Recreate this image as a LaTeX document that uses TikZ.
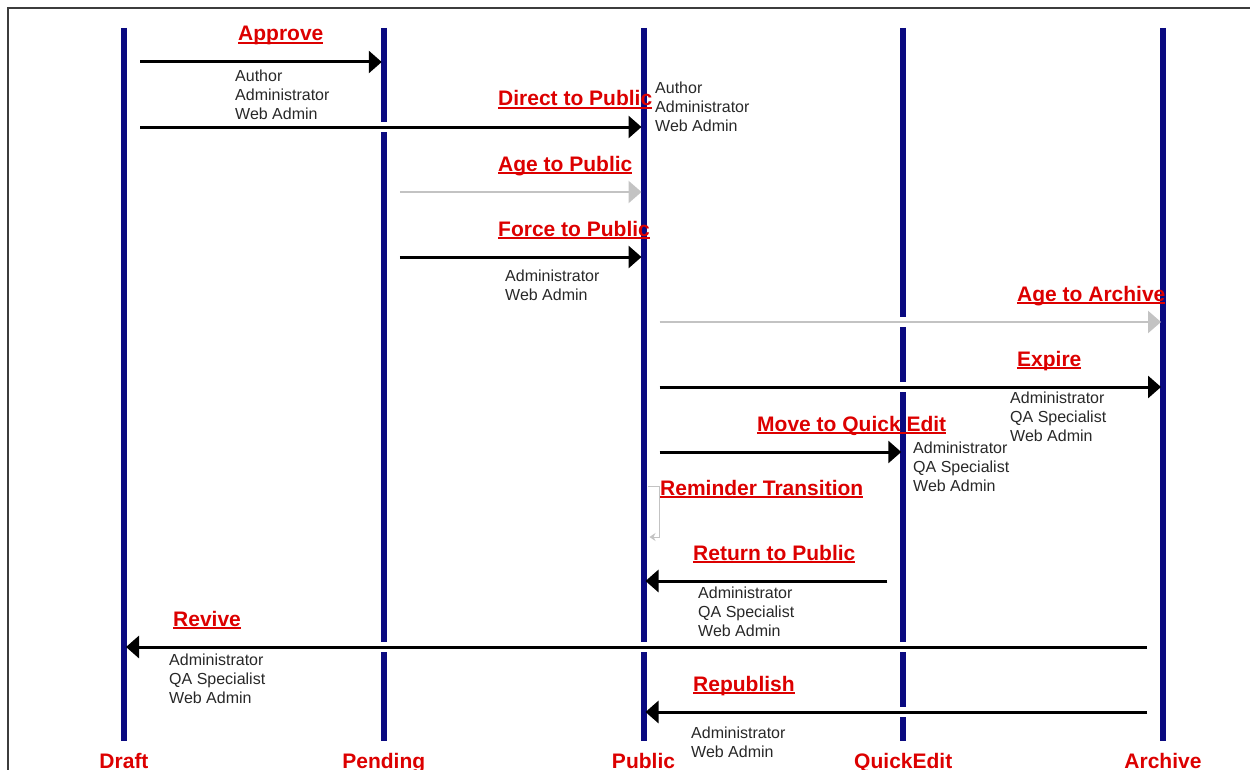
\documentclass[tikz,border=0pt]{standalone}
\usepackage{fontspec}
\setmainfont{Liberation Sans}
\usetikzlibrary{arrows.meta}
\definecolor{lifenavy}{RGB}{10,10,128}
\definecolor{transred}{RGB}{220,0,0}
\definecolor{rolegray}{RGB}{40,40,40}
\definecolor{agegray}{RGB}{195,195,195}
\definecolor{framegray}{RGB}{60,60,60}
\newcommand{\trline}[1]{\leavevmode\vtop{\hbox{\raisebox{0pt}[\height][0pt]{#1}}\kern1.2bp\hrule height 1.8bp}}

\begin{document}
\begin{tikzpicture}[
  x=1bp, y=-1bp,
  state/.style={anchor=base,inner sep=0pt,text=transred,font=\bfseries\fontsize{21bp}{24bp}\selectfont},
  trans/.style={anchor=base west,inner sep=0pt,text=transred,font=\bfseries\fontsize{21bp}{24bp}\selectfont},
  roles/.style={anchor=north west,inner sep=0pt,align=left,text=rolegray,font=\fontsize{16bp}{19bp}\selectfont},
  lifeline/.style={draw=lifenavy,line width=6bp},
  msg/.style={line width=3bp,-{Triangle[length=13bp,width=22bp]},shorten <=16bp,shorten >=2bp,
    preaction={draw=white,line width=10bp,-,shorten >=20bp}},
  agemsg/.style={msg,draw=agegray,line width=2.5bp},
  remind/.style={draw=agegray,line width=1bp,-{Stealth[length=6bp,width=8bp]}},
  frame/.style={draw=framegray,line width=2bp}
]
\useasboundingbox (0,0) rectangle (1250,770);
\draw[frame] (8,770) -- (8,8) -- (1250,8);

% states and lifelines
\foreach \n/\t [count=\i from 0] in {draft/Draft,pending/Pending,public/Public,quickedit/QuickEdit,archive/Archive}
  \node[state] (\n) at ({124+259.75*\i},768) {\t};
\coordinate (top) at (0,28);
\coordinate (bot) at (0,741);
\foreach \n in {draft,pending,public,quickedit,archive}
  \draw[lifeline] (\n |- top) -- (\n |- bot);

% transitions
\foreach \y/\a/\b/\s in {62/draft/pending/msg,127/draft/public/msg,192/pending/public/agemsg,
    257/pending/public/msg,322/public/archive/agemsg,387/public/archive/msg,452/public/quickedit/msg,
    581/quickedit/public/msg,647/archive/draft/msg,712/archive/public/msg}
  \draw[\s] (\a |- 0,\y) -- (\b |- 0,\y);
\draw[remind,shorten <=4bp] (public |- 0,486) -- ++(16,0) -- ++(0,51) -- ++(-10,0);

% labels
\node[trans] (approvelbl) at (238,41) {\trline{Approve}};
\node[trans] (directlbl) at (498,106) {\trline{Direct to Public}};
\node[trans] (agepublbl) at (498,171) {\trline{Age to Public}};
\node[trans] (forcelbl) at (498,236) {\trline{Force to Public}};
\node[trans] (agearchlbl) at (1017,301) {\trline{Age to Archive}};
\node[trans] (expirelbl) at (1017,366) {\trline{Expire}};
\node[trans] (movelbl) at (757,431) {\trline{Move to Quick Edit}};
\node[trans] (remindlbl) at (660,495) {\trline{Reminder Transition}};
\node[trans] (returnlbl) at (693,560) {\trline{Return to Public}};
\node[trans] (revivelbl) at (173,626) {\trline{Revive}};
\node[trans] (republbl) at (693,691) {\trline{Republish}};

% who may fire them
\node[roles] (approveroles) at (235,70) {Author\\Administrator\\Web Admin};
\node[roles] (directroles) at (655,82) {Author\\Administrator\\Web Admin};
\node[roles] (forceroles) at (505,270) {Administrator\\Web Admin};
\node[roles] (expireroles) at (1010,392) {Administrator\\QA Specialist\\Web Admin};
\node[roles] (moveroles) at (913,442) {Administrator\\QA Specialist\\Web Admin};
\node[roles] (returnroles) at (698,587) {Administrator\\QA Specialist\\Web Admin};
\node[roles] (reviveroles) at (169,654) {Administrator\\QA Specialist\\Web Admin};
\node[roles] (repubroles) at (691,727) {Administrator\\Web Admin};
\end{tikzpicture}
\end{document}
